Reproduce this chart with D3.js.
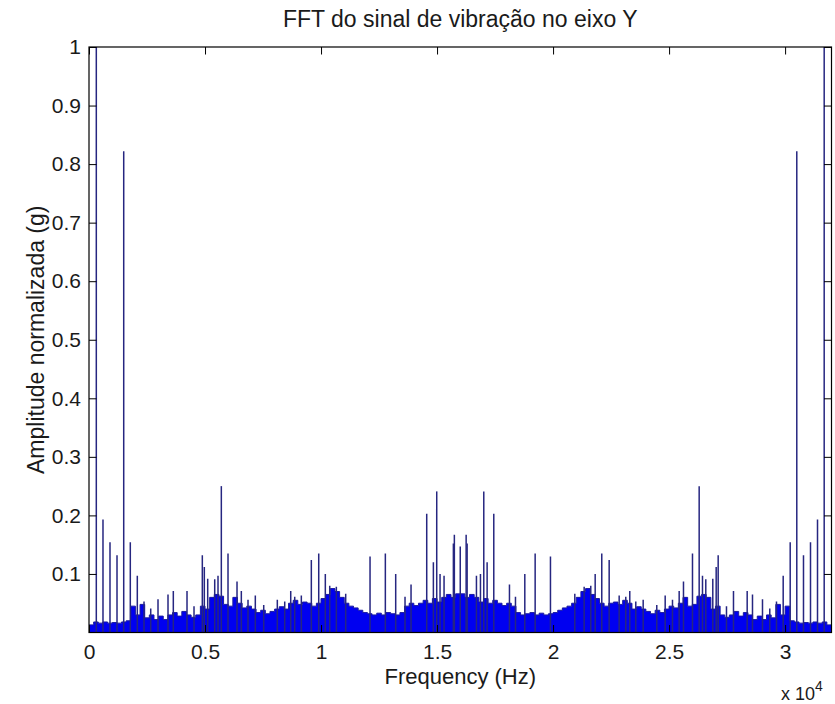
<!DOCTYPE html>
<html>
<head>
<meta charset="utf-8">
<script src="https://cdn.jsdelivr.net/npm/d3@7"></script>
<style>
  html, body { margin: 0; padding: 0; background: #ffffff; }
  svg text { font-family: "Liberation Sans", Arial, Helvetica, sans-serif; fill: #1a1a1a; }
</style>
</head>
<body>
<svg id="chart" width="835" height="704"></svg>
<script>
// ---- Spectrum data -------------------------------------------------------
const titleText = "FFT do sinal de vibração no eixo Y";
const xLabelText = "Frequency (Hz)";
const yLabelText = "Amplitude normalizada (g)";

const xTickValues = [0, 5000, 10000, 15000, 20000, 25000, 30000];
const xTickLabels = ["0", "0.5", "1", "1.5", "2", "2.5", "3"];
const yTickValues = [0.1, 0.2, 0.3, 0.4, 0.5, 0.6, 0.7, 0.8, 0.9, 1];
const yTickLabels = ["0.1", "0.2", "0.3", "0.4", "0.5", "0.6", "0.7", "0.8", "0.9", "1"];

const freqMax = 32000;      // Hz, last frequency bin of the two-sided FFT
const floorStepHz = 200;    // width of each broadband noise-floor bin

// Broadband noise floor (normalized amplitude), one value per 200 Hz bin, 0 .. 32 kHz
const noiseFloor = [
  0.013, 0.018, 0.016, 0.018, 0.016, 0.017, 0.016, 0.018, 0.020, 0.045,
  0.030, 0.048, 0.025, 0.030, 0.022, 0.028, 0.022, 0.030, 0.034, 0.028,
  0.036, 0.030, 0.026, 0.030, 0.045, 0.040, 0.060, 0.065, 0.062, 0.048,
  0.045, 0.060, 0.050, 0.042, 0.045, 0.040, 0.034, 0.038, 0.032, 0.036,
  0.040, 0.044, 0.040, 0.050, 0.055, 0.048, 0.052, 0.050, 0.045, 0.050,
  0.058, 0.065, 0.075, 0.070, 0.060, 0.050, 0.045, 0.042, 0.038, 0.034,
  0.032, 0.030, 0.033, 0.030, 0.034, 0.032, 0.030, 0.034, 0.045, 0.050,
  0.046, 0.050, 0.055, 0.050, 0.058, 0.052, 0.060, 0.065, 0.060, 0.066,
  0.066, 0.060, 0.065, 0.060, 0.052, 0.058, 0.050, 0.055, 0.050, 0.046,
  0.050, 0.045, 0.034, 0.030, 0.032, 0.034, 0.030, 0.033, 0.030, 0.032,
  0.034, 0.038, 0.042, 0.045, 0.050, 0.060, 0.070, 0.075, 0.065, 0.058,
  0.050, 0.045, 0.050, 0.052, 0.048, 0.055, 0.050, 0.040, 0.044, 0.040,
  0.036, 0.032, 0.038, 0.034, 0.040, 0.045, 0.042, 0.050, 0.060, 0.045,
  0.048, 0.062, 0.065, 0.060, 0.040, 0.045, 0.030, 0.026, 0.030, 0.036,
  0.028, 0.034, 0.030, 0.022, 0.028, 0.022, 0.030, 0.025, 0.048, 0.030,
  0.045, 0.020, 0.018, 0.016, 0.017, 0.016, 0.018, 0.016, 0.018, 0.013
];

// Discrete spectral lines: frequency (Hz) and normalized amplitude
const spikeFreqs = [
  315, 603, 905, 1207, 1496, 1780, 2082, 2371, 2660, 2974,
  3405, 3634, 4224, 4526, 4884, 4970, 5116, 5418, 5560, 5703,
  5991, 6379, 6565, 6853, 7168, 7530, 8116, 8435, 8694, 8866,
  9151, 9582, 9901, 10185, 10375, 10660, 11063, 12112, 12772, 13218,
  13620, 13879, 14555, 14842, 14986, 15129, 15302, 15704, 15746, 16000,
  16254, 16296, 16698, 16871, 17014, 17158, 17445, 18121, 18380, 18782,
  19228, 19888, 20937, 21340, 21625, 21815, 22099, 22418, 22849, 23134,
  23306, 23565, 23884, 24470, 24832, 25147, 25435, 25621, 26009, 26297,
  26440, 26582, 26884, 27030, 27116, 27474, 27776, 28366, 28595, 29026,
  29340, 29629, 29918, 30220, 30504, 30793, 31095, 31397, 31685
];
const spikeAmps = [
  1.000, 0.193, 0.154, 0.132, 0.822, 0.154, 0.097, 0.053, 0.041, 0.057,
  0.065, 0.071, 0.071, 0.045, 0.132, 0.112, 0.092, 0.091, 0.097, 0.250,
  0.135, 0.087, 0.071, 0.056, 0.063, 0.047, 0.056, 0.053, 0.071, 0.061,
  0.063, 0.124, 0.135, 0.100, 0.080, 0.078, 0.066, 0.130, 0.135, 0.100,
  0.061, 0.082, 0.203, 0.120, 0.241, 0.100, 0.097, 0.152, 0.167, 0.147,
  0.167, 0.152, 0.097, 0.100, 0.241, 0.120, 0.203, 0.082, 0.061, 0.100,
  0.135, 0.130, 0.066, 0.078, 0.080, 0.100, 0.135, 0.124, 0.063, 0.061,
  0.071, 0.053, 0.056, 0.047, 0.063, 0.056, 0.071, 0.087, 0.135, 0.250,
  0.097, 0.091, 0.092, 0.112, 0.132, 0.045, 0.071, 0.071, 0.065, 0.057,
  0.041, 0.053, 0.097, 0.154, 0.822, 0.132, 0.154, 0.193, 1.000
];

// ---- Layout --------------------------------------------------------------
const plot = { left: 89, top: 47, right: 831.5, bottom: 632.5 };
const tickLen = 7.5;

const svg = d3.select("#chart");

const x = d3.scaleLinear().domain([0, freqMax]).range([plot.left, plot.right]);
const y = d3.scaleLinear().domain([0, 1]).range([plot.bottom, plot.top]);

svg.append("defs").append("clipPath").attr("id", "plotClip")
  .append("rect")
  .attr("x", plot.left).attr("y", plot.top)
  .attr("width", plot.right - plot.left).attr("height", plot.bottom - plot.top);

const dataLayer = svg.append("g").attr("clip-path", "url(#plotClip)");

// Noise floor drawn as a stepped filled area
const floorPoints = noiseFloor.map((v, i) => [i * floorStepHz, v]);
floorPoints.push([freqMax, noiseFloor[noiseFloor.length - 1]]);

const floorArea = d3.area()
  .x(d => x(d[0]))
  .y0(y(0))
  .y1(d => y(d[1]))
  .curve(d3.curveStepAfter);

const floorLine = d3.line()
  .x(d => x(d[0]))
  .y(d => y(d[1]))
  .curve(d3.curveStepAfter);

dataLayer.append("path")
  .datum(floorPoints)
  .attr("d", floorArea)
  .attr("fill", "#0000f0");

dataLayer.append("path")
  .datum(floorPoints)
  .attr("d", floorLine)
  .attr("fill", "none")
  .attr("stroke", "#1a1aa0")
  .attr("stroke-width", 1);

// Spectral lines
dataLayer.selectAll("line.spike")
  .data(spikeFreqs.map((f, i) => ({ f, a: spikeAmps[i] })))
  .join("line")
  .attr("class", "spike")
  .attr("x1", d => x(d.f)).attr("x2", d => x(d.f))
  .attr("y1", y(0)).attr("y2", d => y(d.a))
  .attr("stroke", "#262680")
  .attr("stroke-width", 1.5);

// ---- Axes (ticks pointing inward on all four sides) -----------------------
const tickFont = 21;

const xAxisBottom = d3.axisBottom(x)
  .tickValues(xTickValues)
  .tickFormat((d, i) => xTickLabels[i])
  .tickSizeInner(-tickLen).tickSizeOuter(0).tickPadding(12);
const xAxisTop = d3.axisTop(x)
  .tickValues(xTickValues).tickFormat("")
  .tickSizeInner(-tickLen).tickSizeOuter(0);
const yAxisLeft = d3.axisLeft(y)
  .tickValues(yTickValues)
  .tickFormat((d, i) => yTickLabels[i])
  .tickSizeInner(-tickLen).tickSizeOuter(0).tickPadding(8);
const yAxisRight = d3.axisRight(y)
  .tickValues(yTickValues).tickFormat("")
  .tickSizeInner(-tickLen).tickSizeOuter(0);

function styleAxis(g) {
  g.select(".domain").remove();
  g.selectAll(".tick line").attr("stroke", "#000").attr("stroke-width", 1);
  g.selectAll(".tick text")
    .attr("font-size", tickFont)
    .attr("font-family", "Liberation Sans, Arial, sans-serif")
    .attr("fill", "#1a1a1a");
}

svg.append("g").attr("transform", `translate(0,${plot.bottom})`).call(xAxisBottom).call(styleAxis);
svg.append("g").attr("transform", `translate(0,${plot.top})`).call(xAxisTop).call(styleAxis);
svg.append("g").attr("transform", `translate(${plot.left},0)`).call(yAxisLeft).call(styleAxis);
svg.append("g").attr("transform", `translate(${plot.right},0)`).call(yAxisRight).call(styleAxis);

// Axes box
svg.append("rect")
  .attr("x", plot.left).attr("y", plot.top)
  .attr("width", plot.right - plot.left).attr("height", plot.bottom - plot.top)
  .attr("fill", "none").attr("stroke", "#000").attr("stroke-width", 1.2);

// ---- Titles ---------------------------------------------------------------
const midX = (plot.left + plot.right) / 2;
const midY = (plot.top + plot.bottom) / 2;

svg.append("text")
  .attr("x", midX).attr("y", 27)
  .attr("text-anchor", "middle")
  .attr("font-size", 23)
  .text(titleText);

svg.append("text")
  .attr("x", midX).attr("y", 684)
  .attr("text-anchor", "middle")
  .attr("font-size", 22)
  .text(xLabelText);

svg.append("text")
  .attr("transform", `translate(44,${midY}) rotate(-90)`)
  .attr("text-anchor", "middle")
  .attr("font-size", 23)
  .text(yLabelText);

// Exponent of the frequency axis
const expo = svg.append("text")
  .attr("x", 781).attr("y", 700)
  .attr("font-size", 18);
expo.append("tspan").text("x 10");
expo.append("tspan").attr("dy", -9).attr("font-size", 14).text("4");
</script>
</body>
</html>
